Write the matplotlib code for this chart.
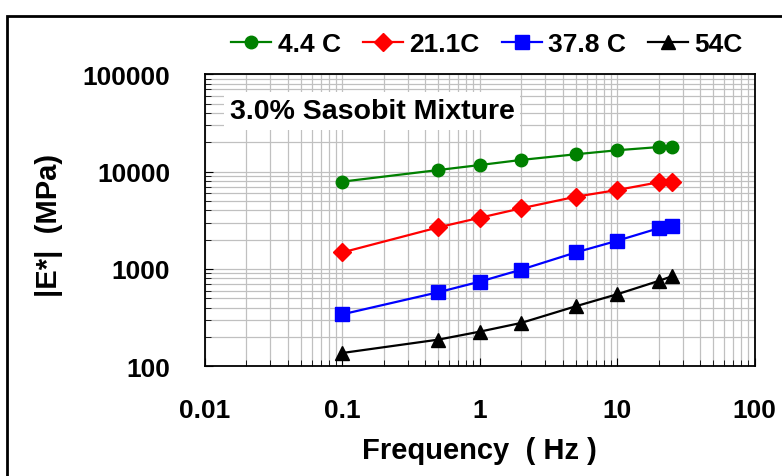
import matplotlib.pyplot as plt
from matplotlib.patches import Rectangle
from matplotlib.ticker import LogLocator, FixedLocator, NullFormatter

plt.rcParams['font.family'] = ['Liberation Sans', 'DejaVu Sans']
plt.rcParams['font.weight'] = 'bold'

freq = [0.1, 0.5, 1, 2, 5, 10, 20, 25]
e_44 = [7900, 10400, 11700, 13200, 15100, 16600, 17900, 18000]
e_211 = [1480, 2680, 3360, 4200, 5530, 6480, 7780, 7890]
e_378 = [342, 577, 741, 984, 1480, 1950, 2620, 2790]
e_54 = [137, 188, 227, 279, 414, 550, 753, 841]
labels = ['4.4 C', '21.1C', '37.8 C', '54C']
colors = ['green', 'red', 'blue', 'black']
markers = ['o', 'D', 's', '^']
msizes = [9, 9, 10, 10]

fig = plt.figure(figsize=(7.82, 4.77), dpi=100)
ax = fig.add_axes([0.262, 0.230, 0.703, 0.612])

for ys, lab, c, m, ms in zip([e_44, e_211, e_378, e_54], labels, colors, markers, msizes):
    ax.plot(freq, ys, color=c, marker=m, markersize=ms, lw=1.6, label=lab)

ax.set_xscale('log')
ax.set_yscale('log')
ax.set_xlim(0.01, 100)
ax.set_ylim(100, 100000)
ax.xaxis.set_major_locator(FixedLocator([0.01, 0.1, 1, 10, 100]))
ax.yaxis.set_major_locator(FixedLocator([100, 1000, 10000, 100000]))
ax.xaxis.set_minor_locator(LogLocator(base=10, subs=range(2, 10), numticks=20))
ax.yaxis.set_minor_locator(LogLocator(base=10, subs=range(2, 10), numticks=20))
ax.xaxis.set_minor_formatter(NullFormatter())
ax.yaxis.set_minor_formatter(NullFormatter())
ax.set_xticklabels(['0.01', '0.1', '1', '10', '100'])
ax.set_yticklabels(['100', '1000', '10000', '100000'])
ax.tick_params(which='both', direction='in', labelsize=19)
ax.tick_params(axis='x', pad=23)
ax.tick_params(axis='y', pad=25)
ax.tick_params(which='major', length=6)
ax.tick_params(which='minor', length=4)
ax.grid(True, which='both', color='#c0c0c0', lw=0.9)
ax.set_axisbelow(True)
for s in ax.spines.values():
    s.set_linewidth(1.3)

ax.set_xlabel('Frequency  ( Hz )', fontsize=21, fontweight='bold')
ax.xaxis.set_label_coords(0.5, -0.24)
ax.set_ylabel('|E*|  (MPa)', fontsize=21, fontweight='bold')
ax.yaxis.set_label_coords(-0.258, 0.485)

ax.text(0.045, 0.875, '3.0% Sasobit Mixture', transform=ax.transAxes, fontsize=20.5,
        fontweight='bold', va='center', ha='left',
        bbox=dict(facecolor='white', edgecolor='none', pad=4))

fig.legend(loc='center', bbox_to_anchor=(0.623, 0.906), ncol=4, frameon=False,
           handlelength=1.5, columnspacing=0.85, handletextpad=0.25,
           prop={'weight': 'bold', 'size': 19})

fig.patches.append(Rectangle((7 / 782, -0.1), 1.2, 1 - 17 / 477 + 0.1,
                             transform=fig.transFigure, fill=False,
                             edgecolor='black', lw=2))

fig.savefig('out.png', dpi=100)
